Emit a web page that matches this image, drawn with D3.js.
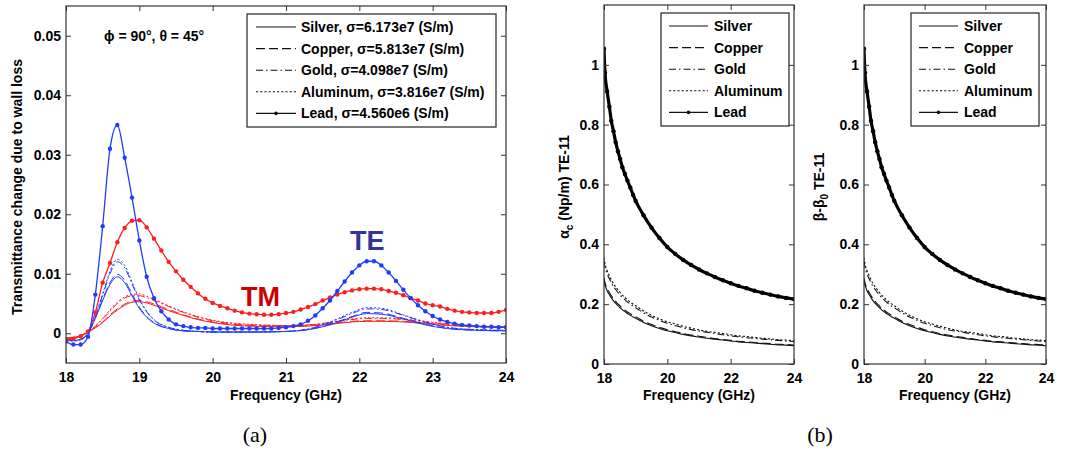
<!DOCTYPE html>
<html><head><meta charset="utf-8">
<script src="https://cdn.jsdelivr.net/npm/d3@7"></script>
<style>
html,body{margin:0;padding:0;background:#fff;}
svg text{font-family:"Liberation Sans",Arial,sans-serif;font-weight:bold;}
</style></head>
<body>
<svg id="fig" width="1081" height="450"></svg>
<script>
// ---------- (a) transmittance change, frequency grids ----------
const thinFreq = [18.0,18.1,18.2,18.3,18.4,18.5,18.6,18.7,18.8,18.9,19.0,19.1,19.2,19.4,19.6,19.8,20.0,20.5,21.0,21.3,21.6,21.9,22.1,22.3,22.6,22.9,23.2,23.6,24.0];
const leadFreq = d3.range(0, 61).map(i => +(18 + i * 0.1).toFixed(1));

// TE (blue)
const teSilver   = [-0.0010,-0.0012,-0.0010,0.0000,0.0025,0.0055,0.0082,0.0095,0.0085,0.0063,0.0042,0.0027,0.0017,0.0008,0.0004,0.0003,0.0002,0.0002,0.0003,0.0006,0.0014,0.0027,0.0033,0.0032,0.0024,0.0014,0.0008,0.0005,0.0004];
const teCopper   = [-0.0010,-0.0012,-0.0010,0.0000,0.0026,0.0057,0.0085,0.0099,0.0089,0.0066,0.0044,0.0028,0.0018,0.0008,0.0004,0.0003,0.0002,0.0002,0.0003,0.0006,0.0015,0.0028,0.0035,0.0034,0.0025,0.0015,0.0008,0.0005,0.0004];
const teGold     = [-0.0011,-0.0013,-0.0011,0.0000,0.0028,0.0064,0.0100,0.0120,0.0110,0.0083,0.0056,0.0036,0.0022,0.0010,0.0005,0.0003,0.0002,0.0002,0.0003,0.0007,0.0018,0.0033,0.0041,0.0040,0.0030,0.0018,0.0010,0.0006,0.0005];
const teAluminum = [-0.0011,-0.0013,-0.0011,0.0000,0.0029,0.0066,0.0104,0.0124,0.0114,0.0086,0.0058,0.0037,0.0023,0.0010,0.0005,0.0003,0.0002,0.0002,0.0003,0.0007,0.0019,0.0035,0.0043,0.0042,0.0031,0.0019,0.0010,0.0006,0.0005];
const teLead = [-0.0014,-0.0019,-0.0019,-0.0006,0.0065,0.0180,0.0310,0.0350,0.0295,0.0228,0.0156,0.0095,0.0059,0.0037,0.0023,0.0015,0.0012,0.0010,0.0009,0.0009,0.0008,0.0008,0.0008,0.0008,0.0008,0.0008,0.0008,0.0008,0.0008,0.0009,0.0010,0.0012,0.0015,0.0021,0.0030,0.0042,0.0055,0.0071,0.0087,0.0102,0.0114,0.0121,0.0121,0.0114,0.0102,0.0088,0.0073,0.0059,0.0047,0.0037,0.0029,0.0023,0.0019,0.0016,0.0014,0.0013,0.0012,0.0011,0.0011,0.0010,0.0010];

// TM (red)
const tmSilver   = [-0.0008,-0.0007,-0.0004,0.0002,0.0009,0.0018,0.0029,0.0039,0.0047,0.0052,0.0053,0.0051,0.0047,0.0038,0.0030,0.0023,0.0018,0.0012,0.0011,0.0012,0.0015,0.0019,0.0020,0.0020,0.0019,0.0016,0.0013,0.0011,0.0010];
const tmCopper   = [-0.0008,-0.0007,-0.0004,0.0002,0.0010,0.0019,0.0031,0.0041,0.0049,0.0054,0.0055,0.0053,0.0049,0.0040,0.0031,0.0024,0.0019,0.0013,0.0012,0.0013,0.0016,0.0020,0.0021,0.0021,0.0020,0.0017,0.0014,0.0011,0.0010];
const tmGold     = [-0.0009,-0.0008,-0.0004,0.0002,0.0012,0.0024,0.0037,0.0050,0.0059,0.0063,0.0063,0.0060,0.0055,0.0045,0.0035,0.0027,0.0021,0.0014,0.0013,0.0014,0.0018,0.0023,0.0025,0.0025,0.0023,0.0019,0.0015,0.0012,0.0011];
const tmAluminum = [-0.0009,-0.0008,-0.0004,0.0002,0.0012,0.0025,0.0039,0.0052,0.0061,0.0065,0.0066,0.0062,0.0057,0.0046,0.0036,0.0028,0.0022,0.0015,0.0013,0.0014,0.0018,0.0024,0.0026,0.0026,0.0024,0.0020,0.0016,0.0012,0.0011];
const tmLead = [-0.0011,-0.0009,-0.0005,0.0003,0.0035,0.0085,0.0118,0.0153,0.0177,0.0189,0.0190,0.0178,0.0159,0.0139,0.0120,0.0104,0.0090,0.0078,0.0067,0.0058,0.0051,0.0046,0.0042,0.0038,0.0035,0.0033,0.0032,0.0031,0.0031,0.0032,0.0034,0.0036,0.0040,0.0044,0.0049,0.0055,0.0060,0.0065,0.0069,0.0072,0.0074,0.0075,0.0075,0.0074,0.0071,0.0068,0.0064,0.0059,0.0055,0.0050,0.0047,0.0045,0.0041,0.0038,0.0036,0.0035,0.0034,0.0034,0.0034,0.0036,0.0039];

const legendLabelsA = ["Silver, σ=6.173e7 (S/m)","Copper, σ=5.813e7 (S/m)","Gold, σ=4.098e7 (S/m)","Aluminum, σ=3.816e7 (S/m)","Lead, σ=4.560e6 (S/m)"];
const xTicksA = [18,19,20,21,22,23,24];
const yTicksA = [0,0.01,0.02,0.03,0.04,0.05];
const yTickLabelsA = ["0","0.01","0.02","0.03","0.04","0.05"];

// ---------- (b) TE-11 attenuation / phase ----------
const alphaFreq = [18.0,18.03,18.1,18.17,18.23,18.3,18.37,18.44,18.51,18.58,18.66,18.74,18.83,18.92,19.0,19.25,19.5,19.75,20.0,20.25,20.5,20.75,21.0,21.25,21.5,21.75,22.0,22.25,22.5,22.75,23.0,23.25,23.5,23.75,24.0];
const alphaSilver   = [0.280,0.265,0.245,0.232,0.222,0.211,0.203,0.195,0.188,0.181,0.175,0.169,0.163,0.157,0.153,0.139,0.128,0.119,0.111,0.105,0.099,0.094,0.090,0.086,0.083,0.080,0.077,0.074,0.072,0.070,0.068,0.066,0.064,0.063,0.061];
const alphaCopper   = [0.288,0.273,0.252,0.239,0.229,0.217,0.209,0.201,0.194,0.186,0.180,0.174,0.168,0.162,0.158,0.143,0.132,0.123,0.114,0.108,0.102,0.097,0.093,0.089,0.085,0.082,0.079,0.076,0.074,0.072,0.070,0.068,0.066,0.065,0.063];
const alphaGold     = [0.344,0.325,0.301,0.285,0.272,0.259,0.249,0.239,0.231,0.222,0.215,0.207,0.200,0.193,0.188,0.171,0.157,0.146,0.136,0.129,0.121,0.115,0.110,0.106,0.102,0.098,0.094,0.091,0.088,0.086,0.083,0.081,0.079,0.077,0.075];
const alphaAluminum = [0.356,0.337,0.312,0.295,0.282,0.268,0.258,0.248,0.239,0.230,0.223,0.215,0.207,0.200,0.195,0.177,0.163,0.151,0.141,0.134,0.126,0.120,0.114,0.109,0.106,0.102,0.098,0.094,0.092,0.089,0.086,0.084,0.081,0.080,0.078];
const alphaLead     = [1.054,0.974,0.911,0.860,0.813,0.778,0.741,0.711,0.685,0.658,0.635,0.613,0.590,0.565,0.545,0.497,0.456,0.421,0.391,0.368,0.348,0.331,0.316,0.303,0.291,0.280,0.270,0.261,0.253,0.245,0.238,0.232,0.226,0.221,0.217];
// phase constant difference (visually identical to attenuation in the figure)
const betaSilver = alphaSilver, betaCopper = alphaCopper, betaGold = alphaGold, betaAluminum = alphaAluminum, betaLead = alphaLead;

const legendLabelsB = ["Silver","Copper","Gold","Aluminum","Lead"];
const xTicksB = [18,20,22,24];
const yTicksB = [0,0.2,0.4,0.6,0.8,1];
const yTickLabelsB = ["0","0.2","0.4","0.6","0.8","1"];

// ---------- drawing ----------
const svg = d3.select("#fig");
const BLUE = "#1e3cff", RED = "#ff1e1e";
const dashes = {Silver:null, Copper:"9,4", Gold:"7,3,1.5,3", Aluminum:"2.2,2", Lead:null};
const mats = ["Silver","Copper","Gold","Aluminum","Lead"];

function panel(opt){
  const g = svg.append("g");
  const x = d3.scaleLinear().domain([18,24]).range([opt.x0,opt.x1]);
  const y = d3.scaleLinear().domain(opt.ydom).range([opt.y1,opt.y0]);
  // box
  g.append("rect").attr("x",opt.x0).attr("y",opt.y0).attr("width",opt.x1-opt.x0).attr("height",opt.y1-opt.y0)
    .attr("fill","#fff").attr("stroke","none");
  const clipId = "clip"+opt.id;
  svg.append("clipPath").attr("id",clipId).append("rect").attr("x",opt.x0).attr("y",opt.y0).attr("width",opt.x1-opt.x0).attr("height",opt.y1-opt.y0);
  const plot = g.append("g").attr("clip-path",`url(#${clipId})`);
  opt.draw(plot,x,y);
  // axes
  const ax = g.append("g").attr("class","axes");
  const bottom = d3.axisBottom(x).tickValues(opt.xticks).tickSizeInner(-5).tickSizeOuter(0).tickPadding(9).tickFormat(d3.format("d"));
  const top = d3.axisTop(x).tickValues(opt.xticks).tickSizeInner(-5).tickSizeOuter(0).tickFormat("");
  const left = d3.axisLeft(y).tickValues(opt.yticks).tickSizeInner(-5).tickSizeOuter(0).tickPadding(opt.ypad).tickFormat((d,i)=>opt.ylabels[i]);
  const right = d3.axisRight(y).tickValues(opt.yticks).tickSizeInner(-5).tickSizeOuter(0).tickFormat("");
  ax.append("g").attr("transform",`translate(0,${opt.y1})`).call(bottom);
  ax.append("g").attr("transform",`translate(0,${opt.y0})`).call(top);
  ax.append("g").attr("transform",`translate(${opt.x0},0)`).call(left);
  ax.append("g").attr("transform",`translate(${opt.x1},0)`).call(right);
  ax.selectAll(".domain").remove();
  ax.selectAll("line").attr("stroke","#333").attr("stroke-width",1);
  ax.selectAll("text").attr("font-size",14).attr("font-weight","bold").attr("fill","#000")
    .attr("font-family","Liberation Sans, Arial, sans-serif");
  g.append("rect").attr("x",opt.x0).attr("y",opt.y0).attr("width",opt.x1-opt.x0).attr("height",opt.y1-opt.y0)
    .attr("fill","none").attr("stroke","#333").attr("stroke-width",1.2);
  // x label
  g.append("text").attr("x",(opt.x0+opt.x1)/2).attr("y",400).attr("text-anchor","middle").attr("font-size",14).text("Frequency (GHz)");
  // legend
  const L = opt.legend;
  const lg = g.append("g");
  lg.append("rect").attr("x",L.x).attr("y",L.y).attr("width",L.w).attr("height",L.h).attr("fill","#fff").attr("stroke","#222").attr("stroke-width",1.2);
  L.labels.forEach((lab,i)=>{
    const yy = L.y + 13 + i*21.6;
    lg.append("line").attr("x1",L.lx0).attr("x2",L.lx1).attr("y1",yy).attr("y2",yy)
      .attr("stroke","#111").attr("stroke-width",1.1).attr("stroke-dasharray",dashes[mats[i]]);
    if(mats[i]==="Lead") lg.append("circle").attr("cx",(L.lx0+L.lx1)/2).attr("cy",yy).attr("r",1.8).attr("fill","#111");
    lg.append("text").attr("x",L.tx).attr("y",yy+5).attr("font-size",14).text(lab);
  });
  return g;
}

function drawSeries(plot,x,y,freqs,vals,color,mat,width,marker,mr){
  const pts = freqs.map((f,i)=>[f,vals[i]]);
  const line = d3.line().x(d=>x(d[0])).y(d=>y(d[1])).curve(d3.curveMonotoneX);
  plot.append("path").attr("d",line(pts)).attr("fill","none").attr("stroke",color)
    .attr("stroke-width",width).attr("stroke-dasharray",dashes[mat]);
  if(marker){
    plot.selectAll(null).data(pts).enter().append("circle")
      .attr("cx",d=>x(d[0])).attr("cy",d=>y(d[1])).attr("r",mr).attr("fill",color);
  }
}

// panel (a)
panel({id:"a",x0:66,x1:506,y0:6,y1:363,ydom:[-0.005,0.055],xticks:xTicksA,yticks:yTicksA,ylabels:yTickLabelsA,ypad:5,
  legend:{x:247,y:14,w:249,h:113,lx0:256,lx1:296,tx:301,labels:legendLabelsA},
  draw:(plot,x,y)=>{
    const tm=[tmSilver,tmCopper,tmGold,tmAluminum], te=[teSilver,teCopper,teGold,teAluminum];
    tm.forEach((v,i)=>drawSeries(plot,x,y,thinFreq,v,RED,mats[i],1,false));
    te.forEach((v,i)=>drawSeries(plot,x,y,thinFreq,v,BLUE,mats[i],1,false));
    drawSeries(plot,x,y,leadFreq,tmLead,RED,"Lead",1.3,true,2.2);
    drawSeries(plot,x,y,leadFreq,teLead,BLUE,"Lead",1.3,true,2.2);
  }});
svg.append("text").attr("x",104).attr("y",41).attr("font-size",14).text("ϕ = 90°, θ = 45°");
svg.append("text").attr("x",350).attr("y",250).attr("font-size",27).attr("fill","#33339a").text("TE");
svg.append("text").attr("x",241).attr("y",306).attr("font-size",27).attr("fill","#cc0000").text("TM");
svg.append("text").attr("transform","translate(22,187) rotate(-90)").attr("text-anchor","middle").attr("font-size",14).text("Transmittance change due to wall loss");

function drawB(sets){
  return (plot,x,y)=>{
    sets.slice(0,4).forEach((v,i)=>drawSeries(plot,x,y,alphaFreq,v,"#111",mats[i],1.1,false));
    drawSeries(plot,x,y,alphaFreq,sets[4],"#000","Lead",3.2,true,2.2);
  };
}
panel({id:"b1",x0:604,x1:794,y0:5,y1:364,ydom:[0,1.2],xticks:xTicksB,yticks:yTicksB,ylabels:yTickLabelsB,ypad:5,
  legend:{x:661,y:13,w:128,h:113,lx0:669,lx1:708,tx:714,labels:legendLabelsB},
  draw:drawB([alphaSilver,alphaCopper,alphaGold,alphaAluminum,alphaLead])});
panel({id:"b2",x0:864,x1:1046,y0:5,y1:364,ydom:[0,1.2],xticks:xTicksB,yticks:yTicksB,ylabels:yTickLabelsB,ypad:5,
  legend:{x:911,y:13,w:128,h:113,lx0:919,lx1:958,tx:964,labels:legendLabelsB},
  draw:drawB([betaSilver,betaCopper,betaGold,betaAluminum,betaLead])});

// y labels of (b)
const ya = svg.append("text").attr("transform","translate(569,187) rotate(-90)").attr("text-anchor","middle").attr("font-size",14);
ya.append("tspan").text("α");
ya.append("tspan").attr("dy",4).attr("font-size",10).text("c");
ya.append("tspan").attr("dy",-4).text(" (Np/m) TE-11");
const yb = svg.append("text").attr("transform","translate(824,187) rotate(-90)").attr("text-anchor","middle").attr("font-size",14);
yb.append("tspan").text("β-β");
yb.append("tspan").attr("dy",4).attr("font-size",10).text("0");
yb.append("tspan").attr("dy",-4).text(" TE-11");

// captions
svg.append("text").attr("x",255).attr("y",442).attr("text-anchor","middle").attr("font-size",22)
  .attr("font-weight","normal").attr("font-family","Liberation Serif, serif").style("font-family","'Liberation Serif',serif").style("font-weight","normal").text("(a)");
svg.append("text").attr("x",820).attr("y",442).attr("text-anchor","middle").attr("font-size",22)
  .style("font-family","'Liberation Serif',serif").style("font-weight","normal").text("(b)");
</script>
</body></html>
